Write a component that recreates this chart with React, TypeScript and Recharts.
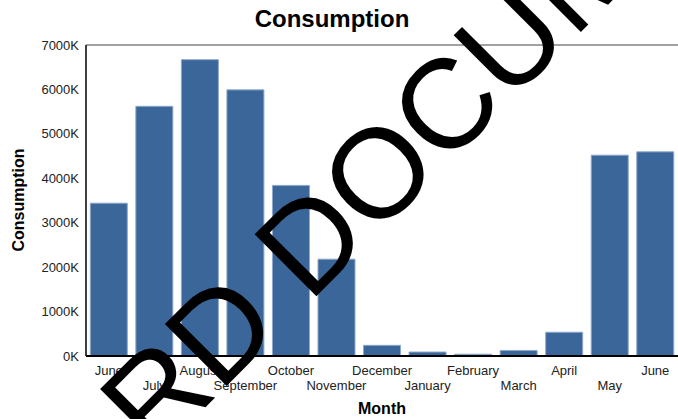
import React from 'react';
import { BarChart, Bar, XAxis, YAxis, ReferenceLine } from 'recharts';

const months = ['June', 'July', 'August', 'September', 'October', 'November', 'December', 'January', 'February', 'March', 'April', 'May', 'June'];
const consumption = [3440, 5620, 6670, 5990, 3840, 2180, 240, 90, 40, 125, 535, 4520, 4595];
const yTicks = [0, 1000, 2000, 3000, 4000, 5000, 6000, 7000];

const data = months.map((m, i) => ({ key: i, month: m, value: consumption[i] }));

const FONT = '"Liberation Sans", Arial, Helvetica, sans-serif';

const MonthTick = (props: any) => {
  const { x, y, payload, index } = props;
  const row = index % 2;
  return (
    <text x={x} y={y + 19 + row * 15} textAnchor="middle" fontSize={13} fill="#222" fontFamily={FONT}>
      {months[payload.value]}
    </text>
  );
};

export default function App() {
  return (
    <div style={{ position: 'relative', width: 678, height: 419 }}>
      <style>{`body{margin:0;}`}</style>
      <BarChart
        width={678}
        height={419}
        data={data}
        margin={{ top: 45, right: 0, bottom: 0, left: 0 }}
        barCategoryGap={4.3}
      >
        <XAxis
          dataKey="key"
          type="category"
          interval={0}
          height={63}
          tickLine={false}
          tickSize={0}
          tickMargin={0}
          axisLine={{ stroke: '#000', strokeWidth: 2 }}
          tick={<MonthTick />}
          label={{ value: 'Month', position: 'insideBottom', offset: 5, fontSize: 16, fontWeight: 'bold', fill: '#000', fontFamily: FONT }}
        />
        <YAxis
          width={86}
          domain={[0, 7000]}
          ticks={yTicks}
          interval={0}
          tickLine={false}
          tickSize={5}
          tickMargin={2}
          axisLine={{ stroke: '#000', strokeWidth: 1.5 }}
          tickFormatter={(v: number) => `${v}K`}
          tick={{ fontSize: 13, fill: '#222', fontFamily: FONT }}
        />
        <ReferenceLine y={7000} stroke="#444" strokeWidth={1} />
        <Bar dataKey="value" fill="#3b6699" stroke="#8fa9c9" strokeWidth={1} isAnimationActive={false} />
      </BarChart>
      <svg width={678} height={419} style={{ position: 'absolute', left: 0, top: 0, pointerEvents: 'none' }}>
        <text x={332} y={27} textAnchor="middle" fontSize={24} fontWeight="bold" fill="#000" fontFamily={FONT}>
          Consumption
        </text>
        <text x={0} y={0} transform="translate(24,200) rotate(-90)" textAnchor="middle" fontSize={16} fontWeight="bold" fill="#000" fontFamily={FONT}>
          Consumption
        </text>
        <text x={154.4} y={458.2} transform="rotate(-45 154.4 458.2)" fontSize={127} fill="#000" fontFamily={FONT}>
          RD DOCUMENT
        </text>
      </svg>
    </div>
  );
}
